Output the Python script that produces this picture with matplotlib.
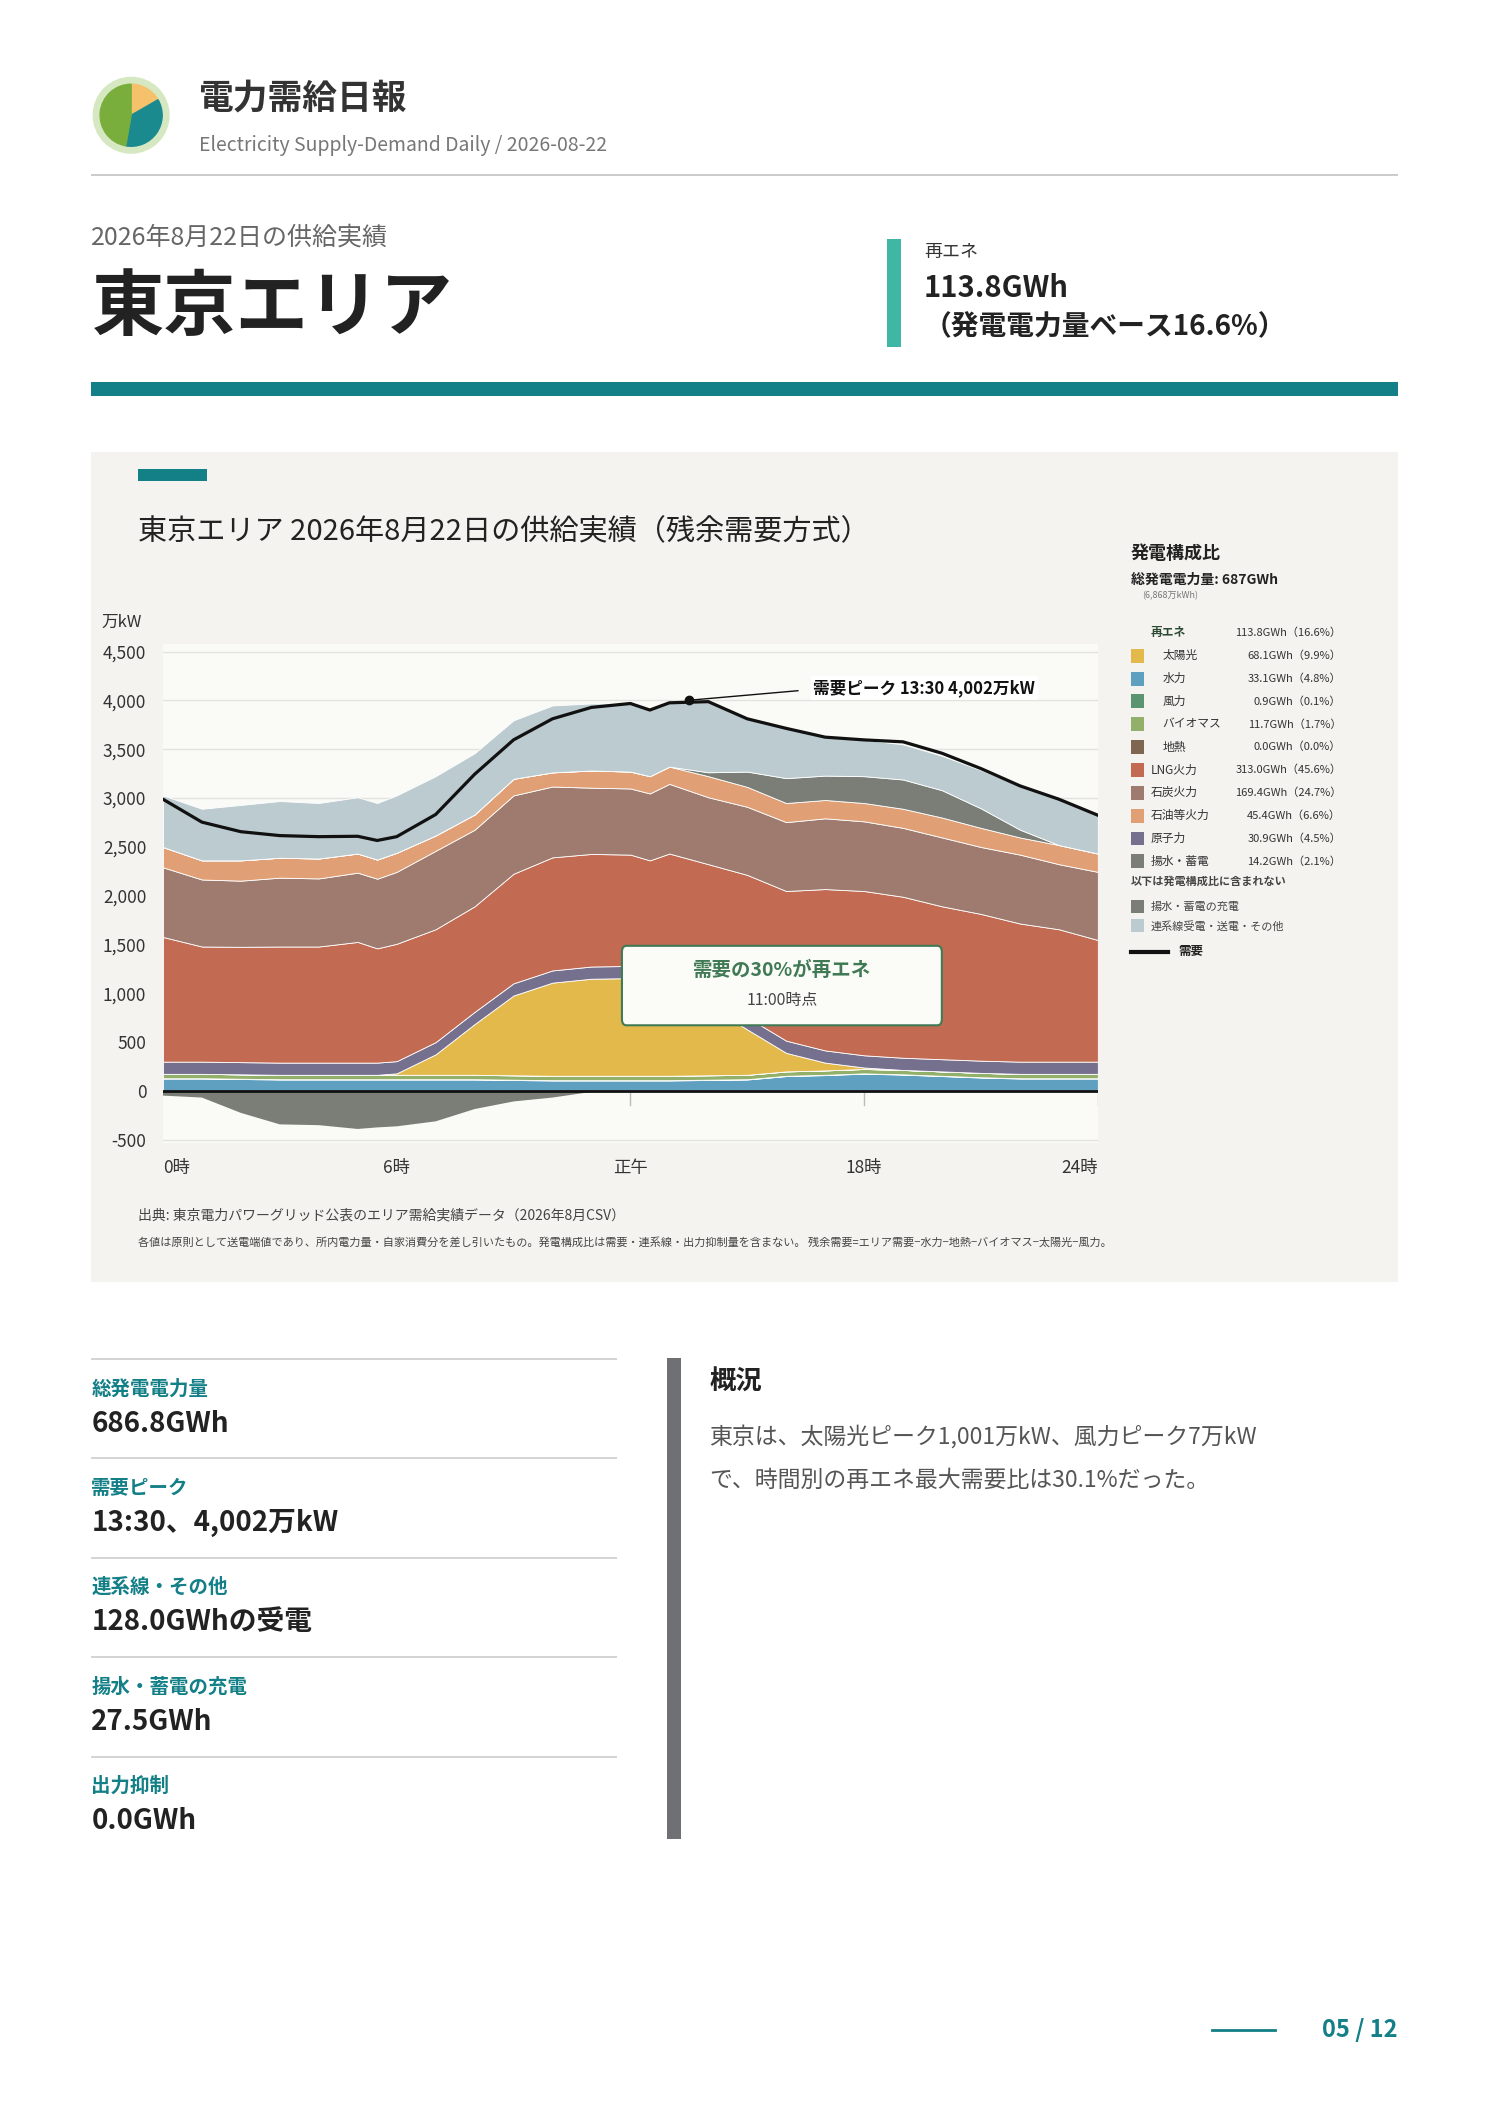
import matplotlib
matplotlib.use("Agg")
import matplotlib.pyplot as plt
from matplotlib.patches import Rectangle, FancyBboxPatch, Wedge, Circle
from matplotlib.lines import Line2D

plt.rcParams['font.family'] = ['Noto Sans CJK JP', 'DejaVu Sans']

W, H = 1488, 2105
K = 0.9935
TEAL = '#137f86'

hours = [0, 1, 2, 3, 4, 5, 5.5, 6, 7, 8, 9, 10, 11, 12, 12.5, 13, 14, 15, 16, 17, 18, 19, 20, 21, 22, 23, 24]
hydro = [125, 125, 120, 115, 115, 115, 115, 115, 115, 115, 110, 105, 105, 105, 105, 105, 110, 115, 150, 160, 175, 165, 150, 135, 125, 125, 125]
wind = [3] * 27
biomass = [45] * 27
geothermal = [0] * 27
solar = [0, 0, 0, 0, 0, 0, 0, 15, 210, 520, 818, 955, 995, 1001, 960, 900, 720, 465, 190, 80, 15, 0, 0, 0, 0, 0, 0]
nuclear = [125] * 27
lng = [1278, 1180, 1182, 1190, 1190, 1237, 1171, 1203, 1157, 1082, 1123, 1159, 1154, 1141, 1123, 1253, 1319, 1459, 1534, 1654, 1684, 1650, 1567, 1504, 1416, 1357, 1247]
coal = [714, 687, 678, 706, 698, 710, 714, 737, 804, 785, 803, 726, 679, 678, 686, 714, 686, 698, 706, 725, 714, 706, 706, 686, 706, 667, 698]
oil = [208, 196, 208, 204, 204, 196, 196, 196, 157, 156, 170, 145, 176, 173, 177, 177, 216, 204, 196, 188, 188, 196, 204, 196, 176, 196, 188]
pumped_gen = [0] * 16 + [40, 157, 255, 250, 275, 300, 280, 200, 80, 0, 0]
interconnect = [529, 529, 568, 581, 569, 577, 580, 588, 608, 628, 600, 686, 687, 698, 678, 666, 725, 541, 510, 393, 372, 360, 353, 392, 450, 470, 393]
pumped_charge = [-50, -70, -227, -345, -353, -392, -376, -365, -314, -188, -110, -70, -12, 0, 0, 0, 0, 0, 0, 0, 0, 0, 0, 0, 0, 0, 0]
demand = [2988, 2753, 2655, 2615, 2604, 2608, 2565, 2604, 2831, 3243, 3596, 3812, 3929, 3969, 3902, 3976, 3988, 3812, 3714, 3624, 3596, 3576, 3459, 3302, 3125, 2988, 2824]
peak_hour, peak_value = 13.5, 4002

layers = [
    (hydro, '#5f9fc0'), (wind, '#5a9470'), (biomass, '#93b06a'), (geothermal, '#7f6650'),
    (solar, '#e3b94c'), (nuclear, '#76708f'), (lng, '#c26a52'), (coal, '#9e7b6e'),
    (oil, '#e09f74'), (pumped_gen, '#7a7e76'), (interconnect, '#bccbd0'),
]

legend_rows = [
    ('再エネ', '113.8GWh（16.6%）', None, True),
    ('太陽光', '68.1GWh（9.9%）', '#e3b94c', True),
    ('水力', '33.1GWh（4.8%）', '#5f9fc0', True),
    ('風力', '0.9GWh（0.1%）', '#5a9470', True),
    ('バイオマス', '11.7GWh（1.7%）', '#93b06a', True),
    ('地熱', '0.0GWh（0.0%）', '#7f6650', True),
    ('LNG火力', '313.0GWh（45.6%）', '#c26a52', False),
    ('石炭火力', '169.4GWh（24.7%）', '#9e7b6e', False),
    ('石油等火力', '45.4GWh（6.6%）', '#e09f74', False),
    ('原子力', '30.9GWh（4.5%）', '#76708f', False),
    ('揚水・蓄電', '14.2GWh（2.1%）', '#7a7e76', False),
]

metrics = [('総発電電力量', '686.8GWh'), ('需要ピーク', '13:30、4,002万kW'),
           ('連系線・その他', '128.0GWhの受電'), ('揚水・蓄電の充電', '27.5GWh'), ('出力抑制', '0.0GWh')]

fig = plt.figure(figsize=(W / 100, H / 100), dpi=100)
fig.patch.set_facecolor('white')


def P(x, y):
    return (x * K / W, 1 - y * K / H)


def T(x, y, s, **kw):
    fig.text(*P(x, y), s, **kw)


def rect(x0, y0, x1, y1, color, z=0):
    fig.add_artist(Rectangle(P(x0, y1), (x1 - x0) * K / W, (y1 - y0) * K / H, transform=fig.transFigure,
                             facecolor=color, edgecolor='none', zorder=z))


def box(x0, y0, x1, y1):
    a, b = P(x0, y1)
    return [a, b, (x1 - x0) * K / W, (y1 - y0) * K / H]


# Logo
lax = fig.add_axes(box(92, 76, 172, 156))
lax.set_xlim(-1.05, 1.05); lax.set_ylim(-1.05, 1.05); lax.set_aspect('equal'); lax.axis('off')
lax.add_patch(Circle((0, 0), 1.0, color='#d6e8c2'))
lax.add_patch(Wedge((0, 0), 0.82, 30, 90, color='#f5c26b'))
lax.add_patch(Wedge((0, 0), 0.82, -100, 30, color='#1a8a8f'))
lax.add_patch(Wedge((0, 0), 0.82, 90, 260, color='#7aae3c'))

T(200, 99, '電力需給日報', fontsize=25, fontweight='bold', color='#333333', va='center')
T(200, 146, 'Electricity Supply-Demand Daily / 2026-08-22', fontsize=14, color='#777777', va='center')
rect(92, 175, 1407, 177, '#cccccc')

T(92, 239, '2026年8月22日の供給実績', fontsize=18, color='#666666', va='center')
T(92, 311, '東京エリア', fontsize=52, fontweight='bold', color='#222222', va='center')
rect(893, 241, 907, 349, '#3fb7a4')
T(930, 254, '再エネ', fontsize=13, color='#333333', va='center')
T(930, 290, '113.8GWh', fontsize=21, fontweight='bold', color='#222222', va='center')
T(930, 329, '（発電電力量ベース16.6%）', fontsize=20, fontweight='bold', color='#222222', va='center')
rect(92, 385, 1407, 399, TEAL)

# Chart panel
rect(92, 455, 1407, 1290, '#f4f3ef')
rect(139, 472, 208, 484, TEAL)
T(139, 536, '東京エリア 2026年8月22日の供給実績（残余需要方式）', fontsize=21, color='#222222', va='center')

ax = fig.add_axes(box(164, 648, 1105, 1150))
ax.set_facecolor('#fafaf6')
for s in ax.spines.values():
    s.set_visible(False)
ax.set_xlim(0, 24)
ax.set_ylim(-531, 4581)
for yv in range(-500, 4501, 500):
    ax.axhline(yv, color='#e3e3dd', lw=1, zorder=0)

bottom = [0] * len(hours)
for vals, col in layers:
    top = [b + v for b, v in zip(bottom, vals)]
    ax.fill_between(hours, bottom, top, facecolor=col, edgecolor='white', lw=0.6, zorder=2)
    bottom = top
ax.fill_between(hours, 0, pumped_charge, facecolor='#7a7e76', edgecolor='none', zorder=2)
ax.axhline(0, color='#111111', lw=2, zorder=4)
ax.plot(hours, demand, color='#111111', lw=2.3, zorder=5)
ax.plot([peak_hour], [peak_value], 'o', color='#111111', ms=6, zorder=6)
ax.plot([peak_hour, 16.3], [peak_value, 4100], color='#111111', lw=1, zorder=6)
ax.text(16.7, 4130, '需要ピーク 13:30 4,002万kW', fontsize=12, fontweight='bold', color='#111111',
        va='center', zorder=6, bbox=dict(facecolor='white', edgecolor='none', pad=2))

ax.set_yticks(range(-500, 4501, 500))
ax.set_yticklabels([f'{v:,}' for v in range(-500, 4501, 500)], fontsize=12.5, color='#333333')
ax.set_xticks([0, 6, 12, 18, 24])
ax.set_xticklabels(['0時', '6時', '正午', '18時', '24時'], fontsize=12.5, color='#333333')
xl = ax.get_xticklabels()
xl[0].set_ha('left'); xl[-1].set_ha('right')
ax.tick_params(axis='both', length=0, pad=12)
for xv in [12, 18, 24]:
    ax.plot([xv, xv], [-20, -150], color='#bbbbbb', lw=1, zorder=3)
T(102, 626, '万kW', fontsize=12, color='#333333', va='center')

# annotation box
a0, b0 = P(626, 1032)
fig.add_artist(FancyBboxPatch((a0, b0), (948 - 626) * K / W, (1032 - 952) * K / H,
                              boxstyle='round,pad=0,rounding_size=0.003', transform=fig.transFigure,
                              facecolor='#fbfbf7', edgecolor='#3f7a55', lw=1.5, zorder=10))
T(787, 977, '需要の30%が再エネ', fontsize=14, fontweight='bold', color='#3f7a55', ha='center', va='center', zorder=11)
T(787, 1007, '11:00時点', fontsize=11.5, color='#444444', ha='center', va='center', zorder=11)

T(139, 1223, '出典: 東京電力パワーグリッド公表のエリア需給実績データ（2026年8月CSV）', fontsize=10, color='#444444', va='center')
T(139, 1250, '各値は原則として送電端値であり、所内電力量・自家消費分を差し引いたもの。発電構成比は需要・連系線・出力抑制量を含まない。 残余需要=エリア需要−水力−地熱−バイオマス−太陽光−風力。',
  fontsize=8, color='#444444', va='center')

# Legend
T(1138, 557, '発電構成比', fontsize=13, fontweight='bold', color='#222222', va='center')
T(1138, 584, '総発電電力量: 687GWh', fontsize=10, fontweight='bold', color='#222222', va='center')
T(1150, 600, '(6,868万kWh)', fontsize=6.5, color='#777777', va='center')
y = 637
for name, val, col, ren in legend_rows:
    if col is None:
        T(1158, y, name, fontsize=8.5, fontweight='bold', color='#2d4a35', va='center')
    else:
        rect(1138, y - 7, 1151, y + 7, col)
        T(1170 if ren else 1158, y, name, fontsize=8.5, color='#333333', va='center')
    T(1350, y, val, fontsize=8, color='#333333', ha='right', va='center')
    y += 23
T(1138, 887, '以下は発電構成比に含まれない', fontsize=8, color='#444444', va='center', fontweight='bold')
rect(1138, 906, 1151, 919, '#7a7e76')
T(1158, 913, '揚水・蓄電の充電', fontsize=8, color='#444444', va='center')
rect(1138, 925, 1151, 938, '#bccbd0')
T(1158, 932, '連系線受電・送電・その他', fontsize=8, color='#444444', va='center')
l0, m0 = P(1138, 958)
l1, _ = P(1176, 958)
fig.add_artist(Line2D([l0, l1], [m0, m0], color='#111111', lw=3, transform=fig.transFigure))
T(1186, 958, '需要', fontsize=9, fontweight='bold', color='#222222', va='center')

# Metrics
for i, (lab, val) in enumerate(metrics):
    y0 = 1367 + i * 100
    rect(92, y0, 621, y0 + 2, '#d5d5d5')
    T(92, y0 + 31, lab, fontsize=14, fontweight='bold', color=TEAL, va='center')
    T(92, y0 + 66, val, fontsize=20, fontweight='bold', color='#222222', va='center')

rect(671, 1367, 685, 1851, '#6f7074')
T(714, 1391, '概況', fontsize=19, fontweight='bold', color='#222222', va='center')
T(714, 1446, '東京は、太陽光ピーク1,001万kW、風力ピーク7万kW', fontsize=16.5, color='#555555', va='center')
T(714, 1490, 'で、時間別の再エネ最大需要比は30.1%だった。', fontsize=16.5, color='#555555', va='center')

l0, m0 = P(1220, 2043)
l1, _ = P(1283, 2043)
fig.add_artist(Line2D([l0, l1], [m0, m0], color=TEAL, lw=2, transform=fig.transFigure))
T(1407, 2043, '05 / 12', fontsize=17, fontweight='bold', color=TEAL, ha='right', va='center')

fig.savefig('out.png', dpi=100, facecolor='white')
